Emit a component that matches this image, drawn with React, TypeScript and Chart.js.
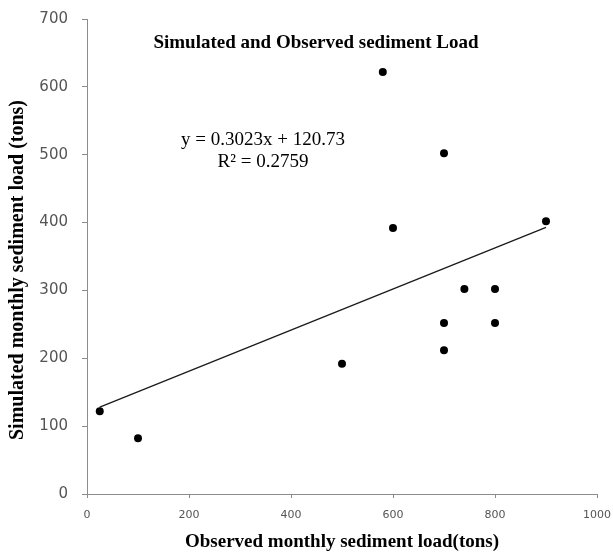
import React, { useEffect, useRef } from "react";
import { Chart, registerables } from "chart.js";

Chart.register(...registerables);

// Observed (x) vs simulated (y) monthly sediment load, tons
const observed = [25, 100, 500, 580, 600, 700, 700, 700, 740, 800, 800, 900];
const simulated = [122, 82, 192, 622, 392, 502, 252, 212, 302, 302, 252, 402];

// Linear trendline end points
const trendX = [25, 900];
const trendY = [128, 393];

const titleText = "Simulated and Observed sediment Load";
const equationText = "y = 0.3023x + 120.73";
const r2Text = "R² = 0.2759";
const xTitle = "Observed monthly sediment load(tons)";
const yTitle = "Simulated monthly sediment load (tons)";

const SERIF = "'Liberation Serif', 'Times New Roman', serif";
const SANS = "'DejaVu Sans', sans-serif";

const textPlugin = {
  id: "textPlugin",
  afterDraw(chart: any) {
    const ctx = chart.ctx;
    ctx.save();
    ctx.fillStyle = "#000";
    ctx.textAlign = "center";
    ctx.textBaseline = "middle";
    ctx.font = `bold 19px ${SERIF}`;
    ctx.fillText(titleText, 316, 43);
    ctx.font = `19px ${SERIF}`;
    ctx.fillText(equationText, 263, 140);
    ctx.fillText(r2Text, 263, 162);
    ctx.font = `bold 19px ${SERIF}`;
    ctx.fillText(xTitle, 342, 542);
    ctx.translate(18, 270);
    ctx.rotate(-Math.PI / 2);
    ctx.font = `bold 20px ${SERIF}`;
    ctx.fillText(yTitle, 0, 0);
    ctx.restore();
  },
};

export default function App() {
  const ref = useRef<HTMLCanvasElement | null>(null);
  useEffect(() => {
    if (!ref.current) return;
    const chart = new Chart(ref.current, {
      type: "scatter",
      data: {
        datasets: [
          {
            type: "line",
            data: trendX.map((x, i) => ({ x, y: trendY[i] })),
            borderColor: "#1a1a1a",
            borderWidth: 1.3,
            pointRadius: 0,
            fill: false,
            order: 2,
          } as any,
          {
            data: observed.map((x, i) => ({ x, y: simulated[i] })),
            backgroundColor: "#000",
            borderWidth: 0,
            pointRadius: 4,
            order: 1,
          },
        ],
      },
      options: {
        responsive: false,
        animation: false,
        layout: { padding: { top: 19, right: 16, left: 0, bottom: 0 } },
        plugins: {
          legend: { display: false },
          tooltip: { enabled: false },
          title: { display: false },
        },
        scales: {
          x: {
            type: "linear",
            min: 0,
            max: 1000,
            ticks: {
              stepSize: 200,
              font: { family: SANS, size: 11 },
              color: "#555",
              padding: 11,
              callback: (v: any) => String(v),
            },
            grid: {
              drawOnChartArea: false,
              drawTicks: true,
              tickLength: 4,
              color: "#8c8c8c",
            },
            border: { display: true, color: "#8c8c8c", width: 1 },
            afterFit: (s: any) => {
              s.height = 60;
              s.paddingLeft = 0;
              s.paddingRight = 0;
            },
          },
          y: {
            type: "linear",
            min: 0,
            max: 700,
            ticks: {
              stepSize: 100,
              font: { family: SANS, size: 15 },
              color: "#555",
              padding: 14,
            },
            grid: {
              drawOnChartArea: false,
              drawTicks: true,
              tickLength: 5,
              color: "#8c8c8c",
            },
            border: { display: true, color: "#8c8c8c", width: 1 },
            afterFit: (s: any) => {
              s.width = 87;
              s.paddingTop = 0;
              s.paddingBottom = 0;
            },
          },
        },
      },
      plugins: [textPlugin],
    });
    return () => chart.destroy();
  }, []);
  return (
    <div style={{ position: "absolute", left: 0, top: 0, width: 613, height: 554, background: "#fff" }}>
      <canvas ref={ref} width={613} height={554} style={{ display: "block" }} />
    </div>
  );
}
